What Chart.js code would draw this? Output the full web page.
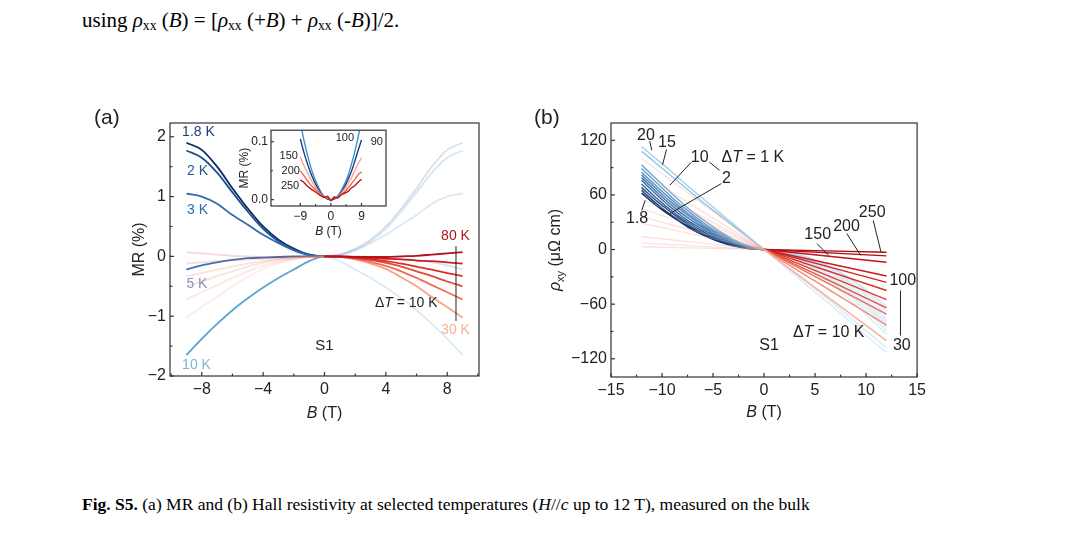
<!DOCTYPE html>
<html><head><meta charset="utf-8">
<script src="https://cdn.jsdelivr.net/npm/chart.js@4.4.1/dist/chart.umd.min.js"></script>
<style>
body{margin:0;background:#fff;width:1080px;height:534px;position:relative;overflow:hidden;font-family:"Liberation Serif",serif;}
.txt{position:absolute;left:82px;color:#000;white-space:nowrap;}
canvas{position:absolute;}
sub{font-size:65%;vertical-align:-3px;}
</style></head><body>
<div class="txt" style="top:8px;font-size:21px;">using <i>ρ</i><sub>xx</sub> (<i>B</i>) = [<i>ρ</i><sub>xx</sub> (+<i>B</i>) + <i>ρ</i><sub>xx</sub> (-<i>B</i>)]/2.</div>
<div class="txt" style="top:494px;font-size:17.5px;"><b>Fig. S5.</b> (a) MR and (b) Hall resistivity at selected temperatures (<i>H</i>//<i>c</i> up to 12 T), measured on the bulk</div>
<canvas id="ca" width="410" height="340" style="left:80px;top:100px;"></canvas>
<canvas id="cb" width="410" height="340" style="left:520px;top:100px;"></canvas>
<canvas id="ci" width="160" height="125" style="left:230px;top:120px;"></canvas>
<script>
// ── Panel (a): MR vs B ─────────────────────────────────────────
const BA = [-9,-8,-7,-6,-5,-4,-3,-2,-1,0,1,2,3,4,5,6,7,8,9];
const MR_1p8 = [1.9,1.78,1.5,1.14,0.8,0.5,0.28,0.13,0.03,0,0.03,0.13,0.28,0.5,0.8,1.14,1.5,1.78,1.9];
const MR_2   = [1.77,1.65,1.4,1.07,0.75,0.46,0.25,0.11,0.03,0,0.03,0.11,0.25,0.46,0.75,1.07,1.4,1.65,1.77];
const MR_3   = [1.05,1.0,0.88,0.69,0.53,0.36,0.22,0.1,0.02,0,0.02,0.1,0.22,0.36,0.53,0.69,0.88,1.0,1.05];
const MR_5   = [-0.22,-0.15,-0.1,-0.06,-0.03,-0.02,-0.01,0,0,0,0,0,-0.01,-0.02,-0.03,-0.06,-0.1,-0.15,-0.22];
const MR_10  = [-1.65,-1.38,-1.13,-0.9,-0.7,-0.52,-0.36,-0.22,-0.08,0,-0.08,-0.22,-0.36,-0.52,-0.7,-0.9,-1.13,-1.38,-1.65];
const MR_30  = [-1.02,-0.85,-0.68,-0.5,-0.35,-0.21,-0.12,-0.05,-0.01,0,-0.01,-0.05,-0.12,-0.21,-0.35,-0.5,-0.68,-0.85,-1.02];
const MR_40  = [-0.72,-0.6,-0.48,-0.36,-0.25,-0.16,-0.09,-0.04,-0.01,0,-0.01,-0.04,-0.09,-0.16,-0.25,-0.36,-0.48,-0.6,-0.72];
const MR_50  = [-0.5,-0.42,-0.33,-0.25,-0.17,-0.11,-0.06,-0.03,-0.01,0,-0.01,-0.03,-0.06,-0.11,-0.17,-0.25,-0.33,-0.42,-0.5];
const MR_60  = [-0.33,-0.28,-0.22,-0.17,-0.12,-0.08,-0.05,-0.02,-0.01,0,-0.01,-0.02,-0.05,-0.08,-0.12,-0.17,-0.22,-0.28,-0.33];
const MR_70  = [-0.12,-0.1,-0.08,-0.07,-0.05,-0.04,-0.03,-0.01,0,0,0,-0.01,-0.03,-0.04,-0.05,-0.07,-0.08,-0.1,-0.12];
const MR_80  = [0.07,0.05,0.03,0.01,0,-0.01,-0.01,-0.01,0,0,0,-0.01,-0.01,-0.01,0,0.01,0.03,0.05,0.07];
const A_XTICKS = [-8,-4,0,4,8];
const A_YTICKS = [-2,-1,0,1,2];

// ── Inset: MR at high T ────────────────────────────────────────
const BI = [-9,-8,-7,-6,-5,-4,-3,-2,-1,0,1,2,3,4,5,6,7,8,9];
const IN_100 = [0.135,0.105,0.08,0.058,0.04,0.026,0.014,0.006,0.002,0,0.002,0.006,0.015,0.027,0.041,0.06,0.082,0.108,0.137];
const IN_90  = [0.105,0.083,0.064,0.047,0.033,0.021,0.011,0.005,0.001,0,0.001,0.005,0.012,0.022,0.034,0.048,0.066,0.085,0.103];
const IN_150 = [0.074,0.06,0.048,0.036,0.026,0.017,0.01,0.005,0.003,0,0.003,0.004,0.011,0.018,0.027,0.037,0.05,0.062,0.072];
const IN_200 = [0.05,0.042,0.034,0.026,0.02,0.014,0.009,0.004,0.006,0,0.005,0.003,0.01,0.013,0.02,0.027,0.035,0.043,0.048];
const IN_250 = [0.034,0.03,0.024,0.019,0.015,0.011,0.007,0.004,0.005,-0.002,0.004,0.003,0.008,0.011,0.014,0.02,0.024,0.03,0.035];
const I_XTICKS = [-9,0,9];
const I_YTICKS = [0,0.1];

// ── Panel (b): Hall resistivity ────────────────────────────────
const BB = [-12,-10.5,-9,-7.5,-6,-4.5,-3,-1.5,0,1.5,3,4.5,6,7.5,9,10.5,12];
const BL = [-12,0,12];
const RH_1p8 = [62,48,36,25,16,9,4,1,0,-1,-4,-9,-16,-25,-36,-48,-62];
const RH_2  = [65,50,37,26,16.5,9.5,4.3,1.1,0,-1.1,-4.3,-9.5,-16.5,-26,-37,-50,-65];
const RH_3  = [68,53,40,28,18,10.5,5,1.5,0,-1.5,-5,-10.5,-18,-28,-40,-53,-68];
const RH_4  = [72,56,42,30,20,11.5,5.5,2,0,-2,-5.5,-11.5,-20,-30,-42,-56,-72];
const RH_5  = [76,60,45,32,22,13,6.5,2,0,-2,-6.5,-13,-22,-32,-45,-60,-76];
const RH_6  = [79,63,48,35,24,14.5,7,2.5,0,-2.5,-7,-14.5,-24,-35,-48,-63,-79];
const RH_7  = [82,66,51,38,26,16,8,3,0,-3,-8,-16,-26,-38,-51,-66,-82];
const RH_8  = [85,69,54,40,28,17.5,9,3,0,-3,-9,-17.5,-28,-40,-54,-69,-85];
const RH_9  = [89,73,57,43,30,19,10,3.5,0,-3.5,-10,-19,-30,-43,-57,-73,-89];
const RH_10 = [93,77,61,46,33,21,11,4,0,-4,-11,-21,-33,-46,-61,-77,-93];
const RH_15 = [108,94,80,66,52,39,26,13,0,-13,-26,-39,-52,-66,-80,-94,-108];
const RH_20 = [113,99,85,70,56,42,28,14,0,-14,-28,-42,-56,-70,-85,-99,-113];
const RH_30  = [100,0,-100];
const RH_40  = [83,0,-83];
const RH_50  = [71,0,-71];
const RH_60  = [64,0,-64];
const RH_70  = [55,0,-55];
const RH_80  = [45,0,-45];
const RH_90  = [36,0,-36];
const RH_100 = [29,0,-29];
const RH_150 = [14,0,-14];
const RH_200 = [7,0,-7];
const RH_250 = [3,0,-3];
const B_XTICKS = [-15,-10,-5,0,5,10,15];
const B_YTICKS = [-120,-60,0,60,120];

const SANS = '"Liberation Sans", Arial, sans-serif';
const pts = (xs, ys) => xs.map((x, i) => ({x, y: ys[i]}));

// strong on one side of B = 0, faded on the other
function line(xs, ys, color, faded, strongNeg, w) {
  return {
    data: pts(xs, ys), borderColor: color, borderWidth: w || 1.8, pointRadius: 0,
    cubicInterpolationMode: 'monotone',
    segment: { borderColor: c => ((c.p0.parsed.x + c.p1.parsed.x) / 2 < 0) === strongNeg ? color : faded }
  };
}

// rich text: parts [text, style] with style 'i' italic, 's' subscript
function rich(ctx, parts, x, y, size, align) {
  const f = (p) => (p[1] === 'i' ? 'italic ' : '') + (p[1] === 's' ? size * 0.68 : size) + 'px ' + SANS;
  let w = 0;
  parts.forEach(p => { ctx.font = f(p); w += ctx.measureText(p[0]).width; });
  let cx = align === 'center' ? x - w / 2 : align === 'right' ? x - w : x;
  ctx.textAlign = 'left'; ctx.textBaseline = 'middle';
  parts.forEach(p => {
    ctx.font = f(p);
    ctx.fillText(p[0], cx, y + (p[1] === 's' ? size * 0.3 : 0));
    cx += ctx.measureText(p[0]).width;
  });
}

function framePlugin(opt) {
  return {
    id: 'frame',
    beforeDatasetsDraw(chart) {
      const c = chart.ctx, a = chart.chartArea;
      c.save(); c.fillStyle = '#fff'; c.fillRect(a.left, a.top, a.right - a.left, a.bottom - a.top); c.restore();
    },
    afterDraw(chart) {
      const c = chart.ctx, a = chart.chartArea, sx = chart.scales.x, sy = chart.scales.y;
      c.save();
      c.strokeStyle = '#333'; c.lineWidth = 1.2;
      c.strokeRect(a.left, a.top, a.right - a.left, a.bottom - a.top);
      // inward ticks, major + minor
      const tk = (vals, axis, len) => vals.forEach(v => {
        c.beginPath();
        if (axis === 'x') { const p = sx.getPixelForValue(v); c.moveTo(p, a.bottom); c.lineTo(p, a.bottom - len); }
        else { const p = sy.getPixelForValue(v); c.moveTo(a.left, p); c.lineTo(a.left + len, p); }
        c.stroke();
      });
      const mid = arr => arr.slice(1).map((v, i) => (v + arr[i]) / 2);
      tk(opt.xt, 'x', opt.tl); tk(mid(opt.xt), 'x', opt.tl * 0.6);
      tk(opt.yt, 'y', opt.tl); tk(mid(opt.yt), 'y', opt.tl * 0.6);
      if (opt.extraMinorX) tk(opt.extraMinorX, 'x', opt.tl * 0.6);
      c.fillStyle = '#222';
      if (opt.xTitle) rich(c, opt.xTitle, (a.left + a.right) / 2, opt.xTitleY, opt.ts, 'center');
      if (opt.yTitle) {
        c.save(); c.translate(opt.yTitleX, (a.top + a.bottom) / 2); c.rotate(-Math.PI / 2);
        rich(c, opt.yTitle, 0, 0, opt.ts, 'center'); c.restore();
      }
      if (opt.panel) { c.font = '21px ' + SANS; c.textAlign = 'left'; c.textBaseline = 'middle'; c.fillText(opt.panel, 14, 18); }
      (opt.labels || []).forEach(l => {
        c.fillStyle = l.color || '#222';
        rich(c, l.parts, sx.getPixelForValue(l.x), sy.getPixelForValue(l.y), l.size || opt.ts, l.align || 'center');
      });
      c.strokeStyle = '#222'; c.lineWidth = 1;
      (opt.leaders || []).forEach(s => {
        c.beginPath(); c.moveTo(sx.getPixelForValue(s[0]), sy.getPixelForValue(s[1]));
        c.lineTo(sx.getPixelForValue(s[2]), sy.getPixelForValue(s[3])); c.stroke();
      });
      c.restore();
    }
  };
}

function makeChart(id, datasets, o) {
  const ticksOf = arr => function (s) { s.ticks = arr.map(v => ({value: v})); };
  const grid = { display: false, drawTicks: false, tickLength: 0 };
  return new Chart(document.getElementById(id), {
    type: 'line',
    data: { datasets },
    options: {
      responsive: false, animation: false, events: [],
      layout: { padding: o.pad },
      plugins: { legend: { display: false }, tooltip: { enabled: false } },
      scales: {
        x: { type: 'linear', min: o.xr[0], max: o.xr[1], afterBuildTicks: ticksOf(o.xt),
             afterFit: s => { s.height = o.xh; },
             grid, border: { display: false },
             ticks: { color: '#222', font: { size: o.fs, family: SANS }, padding: o.tp, maxRotation: 0,
                      callback: v => String(v).replace('-', '\u2212') } },
        y: { type: 'linear', min: o.yr[0], max: o.yr[1], afterBuildTicks: ticksOf(o.yt),
             afterFit: s => { s.width = o.yw; },
             grid, border: { display: false },
             ticks: { color: '#222', font: { size: o.fs, family: SANS }, padding: o.tp,
                      callback: o.ycb || (v => String(v).replace('-', '\u2212')) } }
      }
    },
    plugins: [framePlugin(o)]
  });
}

// Panel (a)
const fb = 'rgba(120,160,210,0.28)', fr = 'rgba(240,140,120,0.25)';
makeChart('ca', [
  line(BA, MR_80, '#b5121b', 'rgba(200,40,40,0.18)', false),
  line(BA, MR_70, '#c81e20', 'rgba(210,60,50,0.18)', false),
  line(BA, MR_60, '#d8302a', fr, false),
  line(BA, MR_50, '#e24a35', fr, false),
  line(BA, MR_40, '#ee7052', 'rgba(240,150,130,0.22)', false),
  line(BA, MR_30, '#f6a487', 'rgba(245,170,150,0.22)', false),
  line(BA, MR_10, '#5aa4d4', 'rgba(150,195,230,0.35)', true),
  line(BA, MR_5, '#3a76b6', 'rgba(130,160,200,0.3)', true),
  line(BA, MR_3, '#2e6cae', 'rgba(140,180,220,0.3)', true),
  line(BA, MR_2, '#1c4f92', fb, true),
  line(BA, MR_1p8, '#0c2a60', 'rgba(110,140,190,0.28)', true),
], {
  xr: [-10.07, 10.07], yr: [-2, 2.23], xt: A_XTICKS, yt: A_YTICKS, extraMinorX: [-10, 10],
  pad: { left: 0, top: 23, right: 11, bottom: 0 }, xh: 64, yw: 90, fs: 16, tp: 4, tl: 4, ts: 16,
  xTitle: [['B', 'i'], [' (T)', '']], xTitleY: 314, yTitle: [['MR (%)', '']], yTitleX: 60, panel: '(a)',
  labels: [
    { parts: [['1.8 K', '']], x: -9.28, y: 2.08, align: 'left', color: '#1c3f7a', size: 14 },
    { parts: [['2 K', '']], x: -8.96, y: 1.43, align: 'left', color: '#235a9c', size: 14 },
    { parts: [['3 K', '']], x: -8.96, y: 0.77, align: 'left', color: '#2e6cae', size: 14 },
    { parts: [['5 K', '']], x: -9.0, y: -0.46, align: 'left', color: '#8b8fb8', size: 14 },
    { parts: [['10 K', '']], x: -9.28, y: -1.82, align: 'left', color: '#7ab4dc', size: 14 },
    { parts: [['80 K', '']], x: 7.6, y: 0.34, align: 'left', color: '#b5121b', size: 14 },
    { parts: [['30 K', '']], x: 7.6, y: -1.23, align: 'left', color: '#f6b09a', size: 14 },
    { parts: [['\u0394', ''], ['T', 'i'], [' = 10 K', '']], x: 3.29, y: -0.78, align: 'left', size: 14 },
    { parts: [['S1', '']], x: 0, y: -1.5, size: 15 }
  ],
  leaders: [[8.57, 0.17, 8.57, -1.08]]
});

// Inset
makeChart('ci', [
  line(BI, IN_250, '#b5141c', '#b5141c', true, 1.4),
  line(BI, IN_200, '#ec6a4a', '#ec6a4a', true, 1.4),
  line(BI, IN_150, '#f4a896', '#f4a896', true, 1.4),
  line(BI, IN_90, '#1b3f7a', '#1b3f7a', true, 1.4),
  line(BI, IN_100, '#3d8fd0', '#3d8fd0', true, 1.4),
], {
  xr: [-17.6, 16.2], yr: [-0.011, 0.12], xt: I_XTICKS, yt: I_YTICKS,
  pad: { left: 0, top: 4, right: 4, bottom: 0 }, xh: 39, yw: 41, fs: 12, tp: 3, tl: 3, ts: 12,
  ycb: v => v.toFixed(1),
  xTitle: [['B', 'i'], [' (T)', '']], xTitleY: 112, yTitle: [['MR (%)', '']], yTitleX: 15,
  labels: [
    { parts: [['100', '']], x: 4.1, y: 0.106, size: 11 },
    { parts: [['90', '']], x: 13.5, y: 0.1, size: 11 },
    { parts: [['150', '']], x: -12.4, y: 0.075, size: 11 },
    { parts: [['200', '']], x: -11.8, y: 0.05, size: 11 },
    { parts: [['250', '']], x: -12, y: 0.024, size: 11 }
  ]
});

// Panel (b)
const bl = (ys, c) => line(BB, ys, c, 'rgba(150,195,230,0.35)', true, 1.4);
const rl = (ys, c) => line(BL, ys, c, 'rgba(245,160,150,0.3)', false, 1.4);
makeChart('cb', [
  rl(RH_30, '#f7b09a'), rl(RH_40, '#f28e74'), rl(RH_50, '#ec6f56'), rl(RH_60, '#e6553f'),
  rl(RH_70, '#e0402f'), rl(RH_80, '#d93025'), rl(RH_90, '#d2231f'), rl(RH_100, '#cc1b1b'),
  rl(RH_150, '#c0141a'), rl(RH_200, '#b31217'), rl(RH_250, '#a80f15'),
  bl(RH_20, '#a6d0ea'), bl(RH_15, '#90c4e4'), bl(RH_10, '#70acd6'), bl(RH_9, '#5fa0cf'),
  bl(RH_8, '#4f92c6'), bl(RH_7, '#4084bd'), bl(RH_6, '#3476b2'), bl(RH_5, '#2a68a6'),
  bl(RH_4, '#1f5a98'), bl(RH_3, '#174a8a'), bl(RH_2, '#0f3a78'), bl(RH_1p8, '#0a2a5e')
], {
  xr: [-15, 15], yr: [-140, 139], xt: B_XTICKS, yt: B_YTICKS,
  pad: { left: 0, top: 23, right: 11, bottom: 0 }, xh: 63, yw: 91, fs: 16, tp: 4, tl: 4, ts: 16,
  xTitle: [['B', 'i'], [' (T)', '']], xTitleY: 313,
  yTitle: [['\u03c1', 'i'], ['xy', 's'], [' (\u03bc\u03a9 cm)', '']], yTitleX: 36, panel: '(b)',
  labels: [
    { parts: [['20', '']], x: -11.57, y: 125.5 }, { parts: [['15', '']], x: -9.52, y: 117.9 },
    { parts: [['10', '']], x: -6.3, y: 101 },
    { parts: [['\u0394', ''], ['T', 'i'], [' = 1 K', '']], x: -4.17, y: 101, align: 'left' },
    { parts: [['2', '']], x: -3.68, y: 78 }, { parts: [['1.8', '']], x: -12.44, y: 34 },
    { parts: [['150', '']], x: 5.26, y: 16.7 }, { parts: [['200', '']], x: 8.08, y: 25.5 },
    { parts: [['250', '']], x: 10.6, y: 41 }, { parts: [['100', '']], x: 13.6, y: -34 },
    { parts: [['30', '']], x: 13.5, y: -105 },
    { parts: [['\u0394', ''], ['T', 'i'], [' = 10 K', '']], x: 6.34, y: -91 },
    { parts: [['S1', '']], x: 0.5, y: -106 }
  ],
  leaders: [
    [-11.2, 119, -11.0, 109], [-9.56, 110, -9.95, 93], [-7.12, 96, -9.23, 70.6],
    [-5.34, 96, -4.37, 87], [-4.2, 72.4, -9.23, 39.5], [-11.98, 43, -11.66, 54],
    [5.19, 6.5, 6.33, -6.4], [8.11, 17.5, 9.47, -6.4], [10.7, 32, 11.46, -2.7],
    [13.37, -45, 13.37, -94.5]
  ]
});
</script>
</body></html>
